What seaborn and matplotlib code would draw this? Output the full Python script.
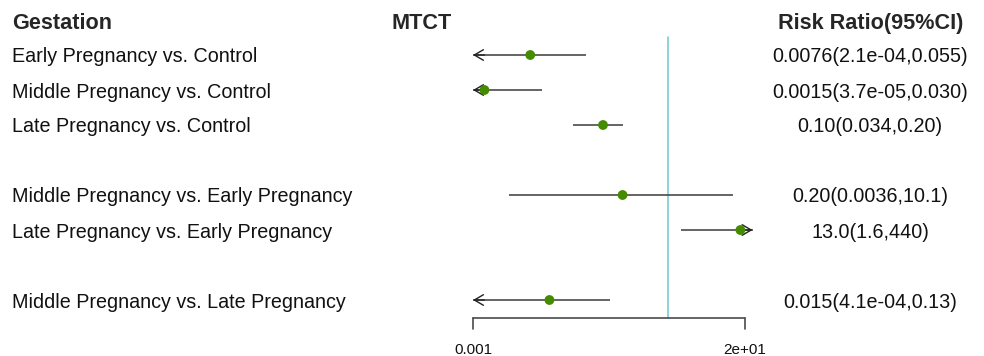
import matplotlib
matplotlib.use("Agg")
import matplotlib.pyplot as plt
import matplotlib.transforms as mtransforms
import numpy as np
import seaborn as sns

# Comparisons shown in the forest plot
comparisons = [
    "Early Pregnancy vs. Control",
    "Middle Pregnancy vs. Control",
    "Late Pregnancy vs. Control",
    "Middle Pregnancy vs. Early Pregnancy",
    "Late Pregnancy vs. Early Pregnancy",
    "Middle Pregnancy vs. Late Pregnancy",
]
# Risk ratios and interval ends as drawn
risk_ratio = [0.0076, 0.0015, 0.10, 0.20, 13.0, 0.015]
ci_lower = [2.1e-04, 3.7e-05, 0.034, 0.0036, 1.6, 4.1e-04]
ci_upper = [0.055, 0.0115, 0.20, 10.1, 440, 0.13]
# Text column as printed
ci_text = [
    "0.0076(2.1e-04,0.055)",
    "0.0015(3.7e-05,0.030)",
    "0.10(0.034,0.20)",
    "0.20(0.0036,10.1)",
    "13.0(1.6,440)",
    "0.015(4.1e-04,0.13)",
]
# Row slots (gaps separate the groups)
row_slot = [1, 2, 3, 5, 6, 8]
tick_values = [0.001, 15.3]
tick_labels = ["0.001", "2e+01"]
clip = (0.001, 20)

W, H = 984, 356
GREEN = "#458B00"
LINE = "#4a4a4a"
REF = "#6cc8d0"

sns.set_theme(style="white")
plt.rcParams["font.family"] = ["Liberation Sans", "DejaVu Sans"]

fig = plt.figure(figsize=(W / 100, H / 100), dpi=100)
ax = fig.add_axes([0, 0, 1, 1])

row_y = [20 + 35 * s for s in row_slot]
axis_y = 318

# confidence intervals, clipped with arrows
lo_draw = np.clip(ci_lower, *clip)
hi_draw = np.clip(ci_upper, *clip)
ax.hlines(row_y, lo_draw, hi_draw, color=LINE, lw=1.2, zorder=2)

sns.scatterplot(x=risk_ratio, y=row_y, ax=ax, color=GREEN, s=50, edgecolor="none", zorder=3, legend=False)

# log axis: 1.0 sits at x=668 px, 65 px per decade
ax.set_xscale("log")
ax.set_xlim(10 ** ((0 - 668) / 65), 10 ** ((W - 668) / 65))
ax.set_ylim(H, 0)
ax.axis("off")

arrow = dict(arrowstyle="->,head_length=0.65,head_width=0.38", color="#222222", lw=1.0,
             shrinkA=0, shrinkB=0, mutation_scale=10)
for lo, hi, y in zip(ci_lower, ci_upper, row_y):
    if lo < clip[0]:
        ax.annotate("", xy=(clip[0], y), xytext=(clip[0] * 1.5, y), arrowprops=arrow, zorder=2)
    if hi > clip[1]:
        ax.annotate("", xy=(clip[1], y), xytext=(clip[1] / 1.5, y), arrowprops=arrow, zorder=2)

# reference line at 1
ax.plot([1, 1], [37, axis_y], color=REF, lw=1.1, zorder=1)

# x axis
ax.plot(tick_values, [axis_y, axis_y], color=LINE, lw=1.2, zorder=2)
for tv, tl in zip(tick_values, tick_labels):
    ax.plot([tv, tv], [axis_y, axis_y + 11], color=LINE, lw=1.2)
    ax.text(tv, 349, tl, fontsize=11, ha="center", va="center_baseline", color="#111111")

# text columns: x in figure fraction, y in data
tr = mtransforms.blended_transform_factory(fig.transFigure, ax.transData)

for x, s, ha in [(12, "Gestation", "left"), (422, "MTCT", "center"), (871, "Risk Ratio(95%CI)", "center")]:
    ax.text(x / W, 21, s, transform=tr, fontsize=15.6, fontweight="bold", va="center_baseline", ha=ha)

for lab, txt, y in zip(comparisons, ci_text, row_y):
    ax.text(12 / W, y, lab, transform=tr, fontsize=14.2, va="center_baseline", ha="left", color="#111111")
    ax.text(870 / W, y, txt, transform=tr, fontsize=14.2, va="center_baseline", ha="center", color="#111111")

fig.savefig("out.png", dpi=100)
